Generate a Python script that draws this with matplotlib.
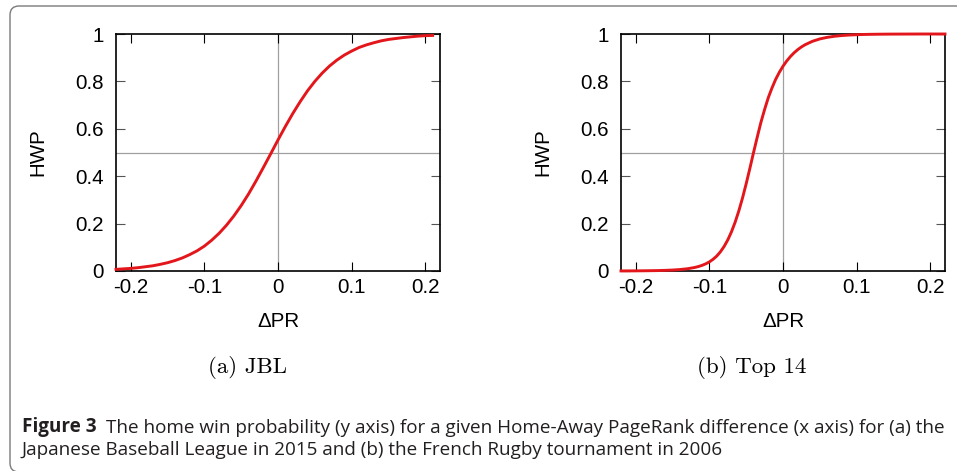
import matplotlib
matplotlib.use("Agg")
import matplotlib.pyplot as plt
from matplotlib.patches import FancyBboxPatch

plt.rcParams["font.family"] = ["Liberation Sans", "DejaVu Sans"]
plt.rcParams["axes.unicode_minus"] = False

# data (Delta PR -> home win probability)
x_jbl = [-0.22, -0.21, -0.20, -0.19, -0.18, -0.17, -0.16, -0.15, -0.14, -0.13,
         -0.12, -0.11, -0.10, -0.09, -0.08, -0.07, -0.06, -0.05, -0.04, -0.03,
         -0.02, -0.01, 0.00, 0.01, 0.02, 0.03, 0.04, 0.05, 0.06, 0.07,
         0.08, 0.09, 0.10, 0.11, 0.12, 0.13, 0.14, 0.15, 0.16, 0.17,
         0.18, 0.19, 0.20, 0.21]
hwp_jbl = [0.007, 0.009, 0.011, 0.014, 0.018, 0.022, 0.028, 0.035, 0.044, 0.055,
           0.069, 0.085, 0.105, 0.130, 0.159, 0.193, 0.232, 0.276, 0.325, 0.379,
           0.436, 0.494, 0.553, 0.610, 0.664, 0.714, 0.760, 0.800, 0.835, 0.865,
           0.890, 0.911, 0.928, 0.943, 0.954, 0.963, 0.971, 0.977, 0.981, 0.985,
           0.988, 0.991, 0.993, 0.994]

x_top14 = [-0.22, -0.21, -0.20, -0.19, -0.18, -0.17, -0.16, -0.15, -0.14, -0.13,
           -0.12, -0.115, -0.11, -0.105, -0.10, -0.095, -0.09, -0.085, -0.08, -0.075,
           -0.07, -0.065, -0.06, -0.055, -0.05, -0.045, -0.04, -0.035, -0.03, -0.025,
           -0.02, -0.015, -0.01, -0.005, 0.00, 0.005, 0.01, 0.015, 0.02, 0.025,
           0.03, 0.04, 0.05, 0.06, 0.07, 0.08, 0.09, 0.10, 0.11, 0.12,
           0.13, 0.14, 0.15, 0.16, 0.17, 0.18, 0.19, 0.20, 0.21, 0.22]
hwp_top14 = [0.0003, 0.0004, 0.0006, 0.0009, 0.0013, 0.0018, 0.0027, 0.0040, 0.0061, 0.0094,
             0.0148, 0.0187, 0.0237, 0.0302, 0.0384, 0.0493, 0.0630, 0.0809, 0.1034, 0.1312,
             0.1652, 0.2059, 0.2535, 0.3079, 0.3682, 0.4329, 0.5000, 0.5646, 0.6271, 0.6814,
             0.7311, 0.7721, 0.8085, 0.8383, 0.8641, 0.8859, 0.9047, 0.9206, 0.9340, 0.9453,
             0.9548, 0.9692, 0.9792, 0.9859, 0.9905, 0.9936, 0.9957, 0.9971, 0.9981, 0.9987,
             0.9991, 0.9994, 0.9996, 0.9997, 0.9998, 0.9999, 1.0, 1.0, 1.0, 1.0]

x_ticks = [-0.2, -0.1, 0, 0.1, 0.2]
x_ticklabels = ["-0.2", "-0.1", "0", "0.1", "0.2"]
y_ticks = [0, 0.2, 0.4, 0.6, 0.8, 1]
y_ticklabels = ["0", "0.2", "0.4", "0.6", "0.8", "1"]

panels = [
    ("(a) JBL", x_jbl, hwp_jbl),
    ("(b) Top 14", x_top14, hwp_top14),
]

W, H = 957, 471
fig = plt.figure(figsize=(W / 100, H / 100), dpi=100)

# overlay in pixel coordinates (origin top-left) for frame, subcaptions, caption
cax = fig.add_axes([0, 0, 1, 1])
cax.set_xlim(0, W)
cax.set_ylim(H, 0)
cax.axis("off")

frame = FancyBboxPatch((10, 6), 1100, 466, boxstyle="round,pad=0,rounding_size=9",
                       fill=False, edgecolor="#7a7a7a", linewidth=1.0, clip_on=False)
cax.add_patch(frame)

axes_px = [(116, 440), (621, 945)]
sub_x = [247, 752]
top_px, bot_px = 34, 271
fs = 14.8

for (sub, xs, ys), (l, r), sx in zip(panels, axes_px, sub_x):
    ax = fig.add_axes([l / W, 1 - bot_px / H, (r - l) / W, (bot_px - top_px) / H])
    ax.axvline(0, color="#a0a0a0", lw=0.9, zorder=1)
    ax.axhline(0.5, color="#a0a0a0", lw=0.9, zorder=1)
    ax.plot(xs, ys, color="#e3161b", lw=2.1, zorder=3, clip_on=False)
    ax.set_xlim(-0.22, 0.22)
    ax.set_ylim(0, 1)
    ax.set_xticks(x_ticks)
    ax.set_xticklabels(x_ticklabels)
    ax.set_yticks(y_ticks)
    ax.set_yticklabels(y_ticklabels)
    ax.tick_params(axis="x", direction="in", top=True, length=6.5, width=0.8,
                   color="black", labelsize=fs, pad=5)
    ax.tick_params(axis="y", direction="in", right=True, length=6.5, width=0.8,
                   color="#555555", labelsize=fs, pad=8.5)
    for s in ax.spines.values():
        s.set_linewidth(1.2)
        s.set_color("black")
    ax.set_xlabel("ΔPR", fontsize=fs, va="center")
    ax.xaxis.set_label_coords(0.5, -0.215)
    ax.set_ylabel("HWP", fontsize=fs, va="center")
    ax.yaxis.set_label_coords(-78.5 / (r - l), 0.5)

    cax.text(sx, 373, sub, family="cmr10", fontsize=16.5, ha="center", va="baseline",
             color="black")

cap_color = "#231f20"
cap_fs = 13.6
t1 = cax.text(22, 432, "Figure 3", family=["Open Sans", "DejaVu Sans"], fontsize=cap_fs,
              fontweight="bold", color=cap_color, va="baseline")
cax.annotate("The home win probability (y axis) for a given Home-Away PageRank difference (x axis) for (a) the",
             xy=(1, 0), xycoords=t1, xytext=(7, 0), textcoords="offset points",
             family=["Open Sans", "DejaVu Sans"], fontsize=cap_fs, color=cap_color,
             va="bottom", annotation_clip=False)
cax.text(22, 455, "Japanese Baseball League in 2015 and (b) the French Rugby tournament in 2006",
         family=["Open Sans", "DejaVu Sans"], fontsize=cap_fs, color=cap_color, va="baseline")

fig.savefig("out.png", dpi=100)
